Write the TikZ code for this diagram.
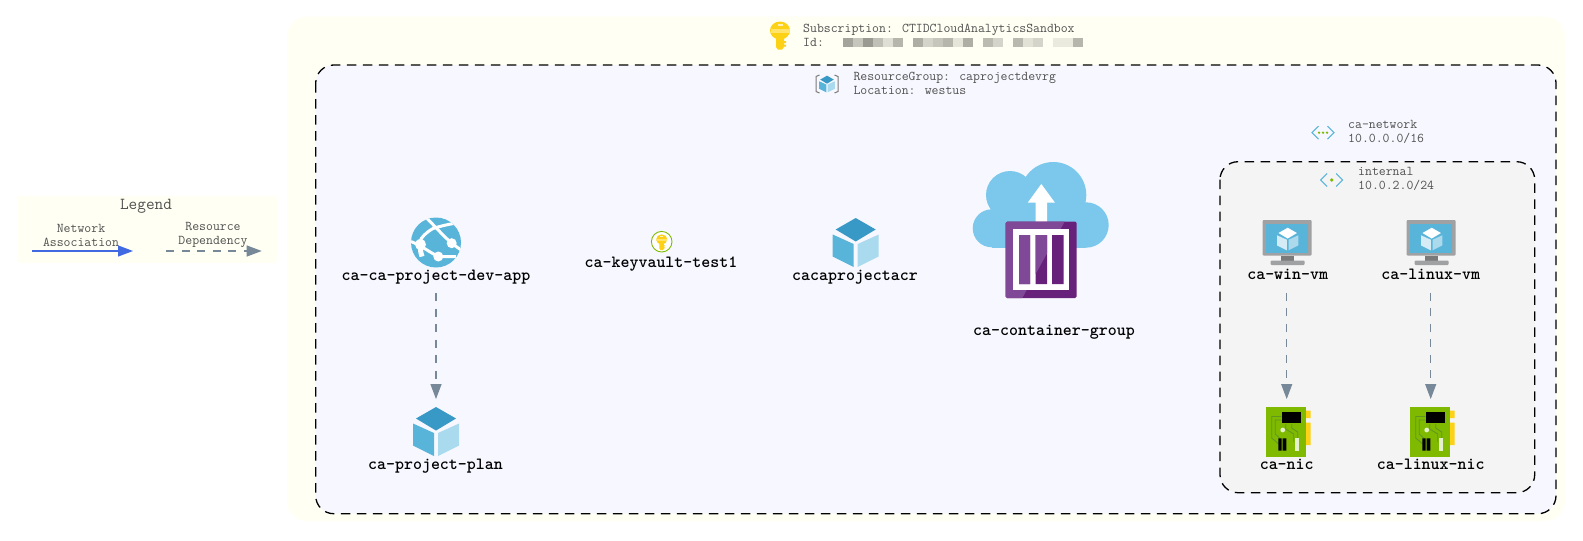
\documentclass[tikz,border=0pt]{standalone}
\usepackage{fontspec}
\usetikzlibrary{arrows.meta}
\definecolor{txtgray}{HTML}{505050}
\definecolor{subbg}{HTML}{FFFFF3}
\definecolor{rgbg}{HTML}{F7F8FF}
\definecolor{snetbg}{HTML}{F4F4F4}
\definecolor{azblue}{HTML}{59B4D9}
\definecolor{azdark}{HTML}{3999C6}
\definecolor{azlight}{HTML}{A9DAEE}
\definecolor{cloudblue}{HTML}{7CC8EC}
\definecolor{gold}{HTML}{FCD116}
\definecolor{goldlight}{HTML}{FFE36B}
\definecolor{azgreen}{HTML}{7FBA00}
\definecolor{tracegreen}{HTML}{5E9624}
\definecolor{purpdark}{HTML}{68217A}
\definecolor{purplight}{HTML}{804998}
\definecolor{vmgray}{HTML}{A0A1A2}
\definecolor{vmdark}{HTML}{7A7A7A}
\definecolor{depgray}{HTML}{778899}
\definecolor{netblue}{HTML}{4169E1}
\newcommand\IconCube[6]{%
 \begin{scope}[shift={(#1,#2)},scale=#3]
 \fill[#4] (0,-24.5)--(-20,-13)--(0,-1)--(20,-13)--cycle;
 \fill[#5] (-23,-8)--(-2,1.5)--(-2,24.5)--(-23,14)--cycle;
 \fill[#6] (23,-8)--(2,1.5)--(2,24.5)--(23,14)--cycle;
 \end{scope}}
\newcommand\IconKey[3]{%
 \begin{scope}[shift={(#1,#2)},scale=#3]
 \fill[gold] (-4,-1)--(4,-1)--(4,11)--(2,13.7)--(-2,13.7)--(-4,11)--cycle;
 \fill[gold] (4,5)rectangle(6,7) (4,8.5)rectangle(6,10.5);
 \fill[gold] (0,-5.5) ellipse [x radius=10,y radius=9];
 \fill[goldlight] (-9.5,-7)--(9.5,-7)--(9.5,-3.5)--(-9.5,-3.5)--cycle;
 \fill[goldlight!50!white] (-2.5,-12)rectangle(2.5,-10);
 \end{scope}}
\newcommand\IconNet[4]{%
 \begin{scope}[shift={(#1,#2)}]
 \draw[azblue,line width=1.1pt] (-4.5,-6.5)--(-11,0)--(-4.5,6.5) (4.5,-6.5)--(11,0)--(4.5,6.5);
 #3
 \end{scope}}
\newcommand\IconVM[2]{%
 \begin{scope}[shift={(#1,#2)}]
 \fill[vmgray,rounded corners=1pt] (-25,-19.5) rectangle (24,16);
 \fill[azblue] (-21.5,-15.5) rectangle (20.5,13);
 \fill[vmdark] (-6.5,16) rectangle (6.5,21);
 \fill[vmgray,rounded corners=1pt] (-17,21) rectangle (17,25.5);
 \end{scope}
 \IconCube{#1}{#2-0.5}{0.46}{white}{white!75!azblue}{white!50!azblue}}
\newcommand\IconNIC[2]{%
 \begin{scope}[shift={(#1,#2)}]
 \fill[gold] (18,-21.5) rectangle (24,-14) (18,-9.5) rectangle (24,13);
 \fill[azgreen] (-21,-24.7) rectangle (19,24.7);
 \draw[tracegreen,line width=.8pt] (-5,-15.5)--(-15,-15.5)--(-15,6)--(-8,12)
   (-5,-12)--(-11.5,-12)--(-11.5,2)--(-6,7)
   (-1,-8)--(-1,-3)--(7,2)--(7,10)
   (5,-8)--(5,-4)--(11,0)--(11,14);
 \fill[black] (-5,-20.3) rectangle (14,-8.7);
 \fill[white!80!azgreen] (-4,-2) circle (2.4);
 \fill[black] (-8.4,6.3) rectangle (-5,18.7) (-4,6.3) rectangle (-0.3,18.7);
 \fill[white!80!azgreen] (8.3,6.3) rectangle (12.6,18.7);
 \end{scope}}
\tikzset{
 x=1pt,y=-1pt,
 plainlabel/.style={font=\ttfamily\fontsize{13.4}{14}\selectfont,text=txtgray,align=left,anchor=west,inner sep=0pt},
 legendlabel/.style={font=\ttfamily\fontsize{13.4}{14}\selectfont,text=txtgray,align=center,inner sep=0pt},
 reslabel/.style={font=\ttfamily\bfseries\fontsize{17.1}{15}\selectfont,text=black,text height=8pt,text depth=3pt,inner sep=0pt,minimum height=31pt},
 iconbox/.style={inner sep=0pt,minimum width=40pt,minimum height=64.5pt},
 depedge/.style={depgray,line width=1.2pt,dash pattern=on 8pt off 7.5pt,-{Triangle[length=15pt,width=11pt]}},
 netedge/.style={netblue,line width=1.2pt,-{Triangle[length=15pt,width=11pt]}},
 framebox/.style={draw=black,line width=1.3pt,dash pattern=on 9.5pt off 6.5pt,rounded corners=18pt},
}
\begin{document}
\begin{tikzpicture}
\useasboundingbox (0,0) rectangle (1583,541);
\fill[white] (0,0) rectangle (1583,541);
% legend
\fill[subbg] (16.7,196) rectangle (276.7,263);
\node[font=\ttfamily\fontsize{16.8}{15}\selectfont,text=txtgray,inner sep=0pt] (legendtitle) at (146,206.5) {Legend};
\node[legendlabel] (netlabel) at (81,235) {Network\\Association};
\node[legendlabel] (deplabel) at (213,235) {Resource\\Dependency};
\coordinate (neta) at (32,251); \coordinate (netb) at (133,251);
\coordinate (depa) at (166,251); \coordinate (depb) at (261.7,251);
\draw[netedge] (neta) -- (netb);
\draw[depedge] (depa) -- (depb);
% containers
\fill[subbg,rounded corners=20pt] (287,16.7) rectangle (1565,521);
\fill[rgbg,rounded corners=18pt] (315.7,65) rectangle (1556,513.7);
\draw[framebox] (315.7,65) rectangle (1556,513.7);
\fill[snetbg,rounded corners=18pt] (1220,161.7) rectangle (1534.7,492.7);
\draw[framebox] (1220,161.7) rectangle (1534.7,492.7);
% subscription header
\IconKey{780}{36}{1}
\node[plainlabel] (sublabel) at (803,35.5) {Subscription: CTIDCloudAnalyticsSandbox\\Id:};
\foreach \cx/\sh in {843.3/55,853.3/30,863.3/62,873.3/35,883.3/12,893.3/42,
  913.3/48,923.3/20,933.3/30,943.3/42,953.3/8,963.3/48,
  983.3/38,993.3/20,1013.3/40,1023.3/10,1033.3/20,1053.3/4,1063.3/4,1073.3/42}
  \fill[black!\sh!subbg!90!black!60!subbg] (\cx,38.3) rectangle ++(10,8.4);
% resource group header
\begin{scope}[shift={(827,84)}]
 \draw[vmdark,line width=1pt] (-7.5,-9)--(-11,-7.5)--(-11,7.5)--(-7.5,9) (7.5,-9)--(11,-7.5)--(11,7.5)--(7.5,9);
\end{scope}
\IconCube{827}{84}{0.34}{azdark}{azblue}{azlight}
\node[plainlabel] (rglabel) at (853.3,83.5) {ResourceGroup: caprojectdevrg\\Location: westus};
% network header
\IconNet{1323}{132.7}{\fill[azgreen] (-4,0) circle (1.3) (0,0) circle (1.3) (4,0) circle (1.3);}{}
\node[plainlabel] (vnetlabel) at (1348,131.5) {ca-network\\10.0.0.0/16};
\IconNet{1331.7}{180}{\fill[azgreen] (0,0) circle (1.8);}{}
\node[plainlabel] (snetlabel) at (1358,179) {internal\\10.0.2.0/24};
% web app
\begin{scope}[shift={(436,242.5)}]
 \fill[azblue] (0,0) circle (25);
 \begin{scope}
 \clip (0,0) circle (25);
 \draw[white,line width=3pt] (-9.3,-24.3) .. controls (0,-15) and (8,-6) .. (15.7,.7) -- (24.7,7.3);
 \draw[white,line width=3pt] (21,-19.5) .. controls (10,-18) and (0,-15) .. (-3,-14) .. controls (-10,-10) and (-15,-5) .. (-16,-1);
 \draw[white,line width=5pt] (-16,-3) .. controls (-16,4) and (-16,8) .. (-14,14);
 \draw[white,line width=3pt] (-25,-1) .. controls (-15,3) and (-6,10) .. (2.3,14) -- (20,14);
 \end{scope}
 \fill[white] (15.7,.7) circle (5) (2.3,14) circle (5) (-15.5,2) circle (5.5);
\end{scope}
\node[reslabel] (applabel) at (436,277.5) {ca-ca-project-dev-app};
\node[iconbox] (planicon) at (436,431.5) {};
\IconCube{436}{431.5}{1}{azdark}{azblue}{azlight}
\node[reslabel] (planlabel) at (435.5,466.5) {ca-project-plan};
% key vault
\begin{scope}[shift={(661.7,241.7)}]
 \fill[white] (0,0) circle (10.3);
 \draw[azgreen,line width=.9pt] (0,0) circle (10.3);
\end{scope}
\IconKey{661.7}{242.5}{0.56}
\node[reslabel] (kvlabel) at (661,264.5) {ca-keyvault-test1};
% registry
\IconCube{855.7}{242.5}{1}{azdark}{azblue}{azlight}
\node[reslabel] (acrlabel) at (855,277.5) {cacaprojectacr};
% container group
\fill[cloudblue] (991.7,228.3) circle (19) (1010,195) circle (24) (1053.3,195) circle (33) (1086,225) circle (22.7);
\fill[cloudblue] (991.7,205) rectangle (1086,247.7);
\fill[white] (1035.7,225) -- (1035.7,202.7) -- (1027.7,202.7) -- (1041.3,184) -- (1055,202.7) -- (1047,202.7) -- (1047,225) -- cycle;
\begin{scope}
 \fill[purpdark,rounded corners=1.5pt] (1005.7,221.7) rectangle (1076.7,298);
 \begin{scope}
 \clip (1005,221) -- (1065,221) -- (1021.7,299) -- (1005,299) -- cycle;
 \fill[purplight,rounded corners=1.5pt] (1005.7,221.7) rectangle (1076.7,298);
 \end{scope}
 \fill[white] (1013,229) rectangle (1069,290);
 \fill[purpdark] (1019,235) rectangle (1030,284) (1035.7,235) rectangle (1047,284) (1052,235) rectangle (1063.7,284);
 \clip (1005,221) -- (1065,221) -- (1021.7,299) -- (1005,299) -- cycle;
 \fill[purplight] (1019,235) rectangle (1030,284) (1035.7,235) rectangle (1047,284);
\end{scope}
\node[reslabel] (acilabel) at (1054,333) {ca-container-group};
% vms
\IconVM{1287.7}{239.5}
\IconVM{1431.7}{239.5}
\node[reslabel] (winvmlabel) at (1287.7,277.2) {ca-win-vm};
\node[reslabel] (linvmlabel) at (1430.7,277.2) {ca-linux-vm};
% nics
\node[iconbox] (nicicon) at (1286.7,431.5) {};
\node[iconbox] (linnicicon) at (1430.7,431.5) {};
\IconNIC{1286.7}{432}
\IconNIC{1430.7}{432}
\node[reslabel] (niclabel) at (1286.7,466.5) {ca-nic};
\node[reslabel] (linniclabel) at (1430.7,466.5) {ca-linux-nic};
% dependencies
\draw[depedge] (applabel.south) -- (planicon.north);
\draw[depedge] (winvmlabel.south -| nicicon.north) -- (nicicon.north);
\draw[depedge] (linvmlabel.south) -- (linnicicon.north);
\end{tikzpicture}
\end{document}
